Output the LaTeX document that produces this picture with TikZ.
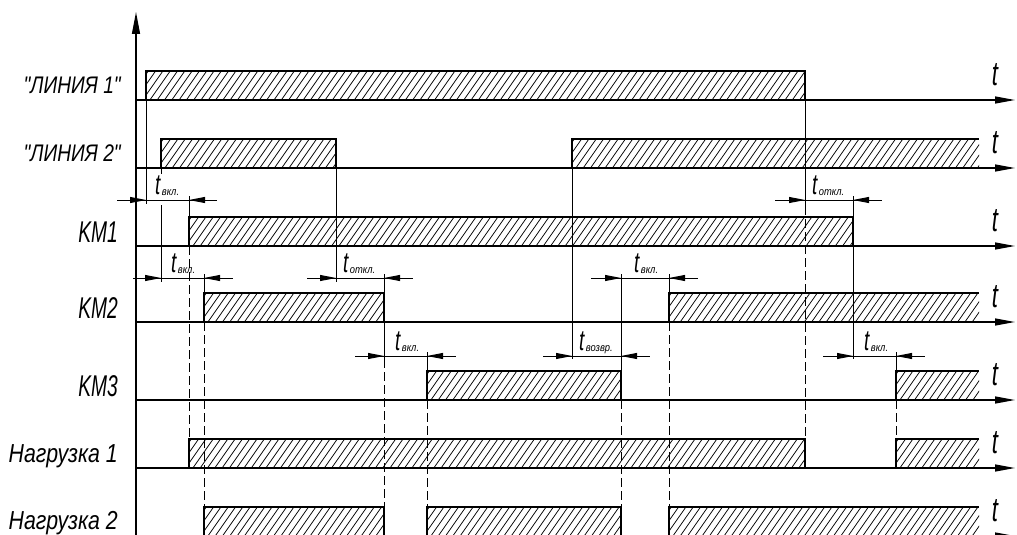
\documentclass[tikz,border=0pt]{standalone}
\usepackage{fontspec}
\usetikzlibrary{arrows.meta}
\newfontfamily\gostL[FakeStretch=0.80]{Liberation Sans}
\newfontfamily\gostK[FakeStretch=0.64]{Liberation Sans}
\newfontfamily\gostN[FakeStretch=0.82]{Liberation Sans}
\newfontfamily\gostT[FakeStretch=0.65]{Liberation Sans}
\newfontfamily\gostS[FakeStretch=0.85]{Liberation Sans}
\newcommand\tsym{{\gostT\itshape\fontsize{29}{29}\selectfont t}}
\newcommand\tsub[1]{\raisebox{-1.5pt}{\gostS\itshape\fontsize{11}{11}\selectfont #1}}
\newcommand\tlabel[1]{\tsym\hspace{1.5pt}\tsub{#1}}
\begin{document}
\begin{tikzpicture}[x=1pt,y=-1pt,
  base/.style={line width=1.3pt},
  edge/.style={line width=2pt},
  hatch/.style={line width=0.75pt},
  ext/.style={line width=0.9pt},
  extd/.style={line width=0.9pt, dash pattern=on 9pt off 4pt},
  dimline/.style={line width=0.9pt},
  axisarrow/.style={line width=1.3pt, -{Triangle[length=22pt,width=8pt]}},
  dimarrow/.style={line width=0.9pt, -{Triangle[length=16pt,width=6pt]}},
  lbl/.style={anchor=base east, inner sep=0pt},
  tlab/.style={anchor=base west, inner sep=0pt},
  trow/.style={inner sep=0pt, font=\gostT\itshape\fontsize{34}{34}\selectfont},
]
\useasboundingbox (0,0) rectangle (1017,535);
\clip (0,0) rectangle (1017,535);

\newcommand\hatchrect[4]{%
  \begin{scope}
    \clip (#1,#3) rectangle (#2,#4);
    \pgfmathtruncatemacro\nhl{(#2-#1+32)/7.3}
    \foreach \i in {0,...,\nhl}{
      \draw[hatch] ({#1-26+7.3*\i},#4+1) -- ++(21.7,-31);
    }
  \end{scope}}
\newcommand\closedbox[3]{% x1 x2 top (bottom = top+29)
  \hatchrect{#1}{#2}{#3}{#3+29}
  \draw[edge] (#1,#3+29) -- (#1,#3) -- (#2,#3) -- (#2,#3+29);}
\newcommand\openbox[3]{%
  \hatchrect{#1}{#2}{#3}{#3+29}
  \draw[edge] (#1,#3+29) -- (#1,#3) -- (#2,#3);}
\newcommand\dimspec[7]{% y, left end, tip a, tip b, right end, label x, label
  \draw[dimline] (#2,#1) -- (#5,#1);
  \draw[dimarrow] (#3-8,#1) -- (#3,#1);
  \draw[dimarrow] (#4+8,#1) -- (#4,#1);
  \node[tlab] at (#6,#1-6) {\tlabel{#7}};}

% vertical axis
\draw[axisarrow] (136,540) -- (136,12);

% time axes
\foreach \y in {100,168,246,322,400,468,536}{
  \draw[base, -{Triangle[length=20pt,width=7pt]}] (136,\y) -- (1015,\y);
  \node[trow] at (995,\y-25) {t};
}

% hatched boxes
\closedbox{146}{805}{71}
\closedbox{161}{336}{139}
\openbox{572}{979}{139}
\closedbox{189}{853}{217}
\closedbox{204}{384}{293}
\openbox{669}{979}{293}
\closedbox{427}{621}{371}
\openbox{896}{979}{371}
\closedbox{189}{805}{439}
\openbox{896}{979}{439}
\closedbox{204}{384}{507}
\closedbox{427}{621}{507}
\openbox{669}{979}{507}

% extension lines (solid)
\draw[ext] (146,100) -- (146,204);
\draw[ext] (161,168) -- (161,174);
\draw[ext] (161,205) -- (161,282);
\draw[ext] (189,196) -- (189,217);
\draw[ext] (204,274) -- (204,293);
\draw[ext] (336,168) -- (336,282);
\draw[ext] (384,274) -- (384,293);
\draw[ext] (384,322) -- (384,359);
\draw[ext] (427,352) -- (427,371);
\draw[ext] (572,168) -- (572,359);
\draw[ext] (621,274) -- (621,371);
\draw[ext] (669,274) -- (669,293);
\draw[ext] (805,100) -- (805,206);
\draw[ext] (853,196) -- (853,217);
\draw[ext] (853,246) -- (853,359);
\draw[ext] (896,352) -- (896,371);

% extension lines (dashed)
\draw[extd] (189,246) -- (189,439);
\draw[extd] (204,322) -- (204,507);
\draw[extd] (384,359) -- (384,507);
\draw[extd] (427,400) -- (427,507);
\draw[extd] (621,400) -- (621,507);
\draw[extd] (669,322) -- (669,507);
\draw[extd] (805,206) -- (805,439);
\draw[extd] (896,400) -- (896,439);

% dimensions
\dimspec{200}{117}{146}{189}{217}{155}{вкл.}
\dimspec{278}{133}{161}{204}{233}{171}{вкл.}
\dimspec{278}{307}{336}{384}{413}{343}{откл.}
\dimspec{356}{355}{384}{427}{456}{395}{вкл.}
\dimspec{356}{543}{572}{621}{650}{579}{возвр.}
\dimspec{278}{591}{621}{669}{698}{634}{вкл.}
\dimspec{200}{775}{805}{853}{882}{812}{откл.}
\dimspec{356}{823}{853}{896}{925}{864}{вкл.}

% row labels
\node[lbl, font=\gostL\itshape\fontsize{24}{26}\selectfont] (l1) at (121,93) {"ЛИНИЯ 1"};
\node[lbl, font=\gostL\itshape\fontsize{24}{26}\selectfont] (l2) at (121,161) {"ЛИНИЯ 2"};
\node[lbl, font=\gostK\itshape\fontsize{30}{32}\selectfont] (k1) at (118,242) {KM1};
\node[lbl, font=\gostK\itshape\fontsize{30}{32}\selectfont] (k2) at (118,318) {KM2};
\node[lbl, font=\gostK\itshape\fontsize{30}{32}\selectfont] (k3) at (118,396) {KM3};
\node[lbl, font=\gostN\itshape\fontsize{26}{28}\selectfont] (n1) at (118,462) {Нагрузка 1};
\node[lbl, font=\gostN\itshape\fontsize{26}{28}\selectfont] (n2) at (118,529) {Нагрузка 2};
\end{tikzpicture}
\end{document}
